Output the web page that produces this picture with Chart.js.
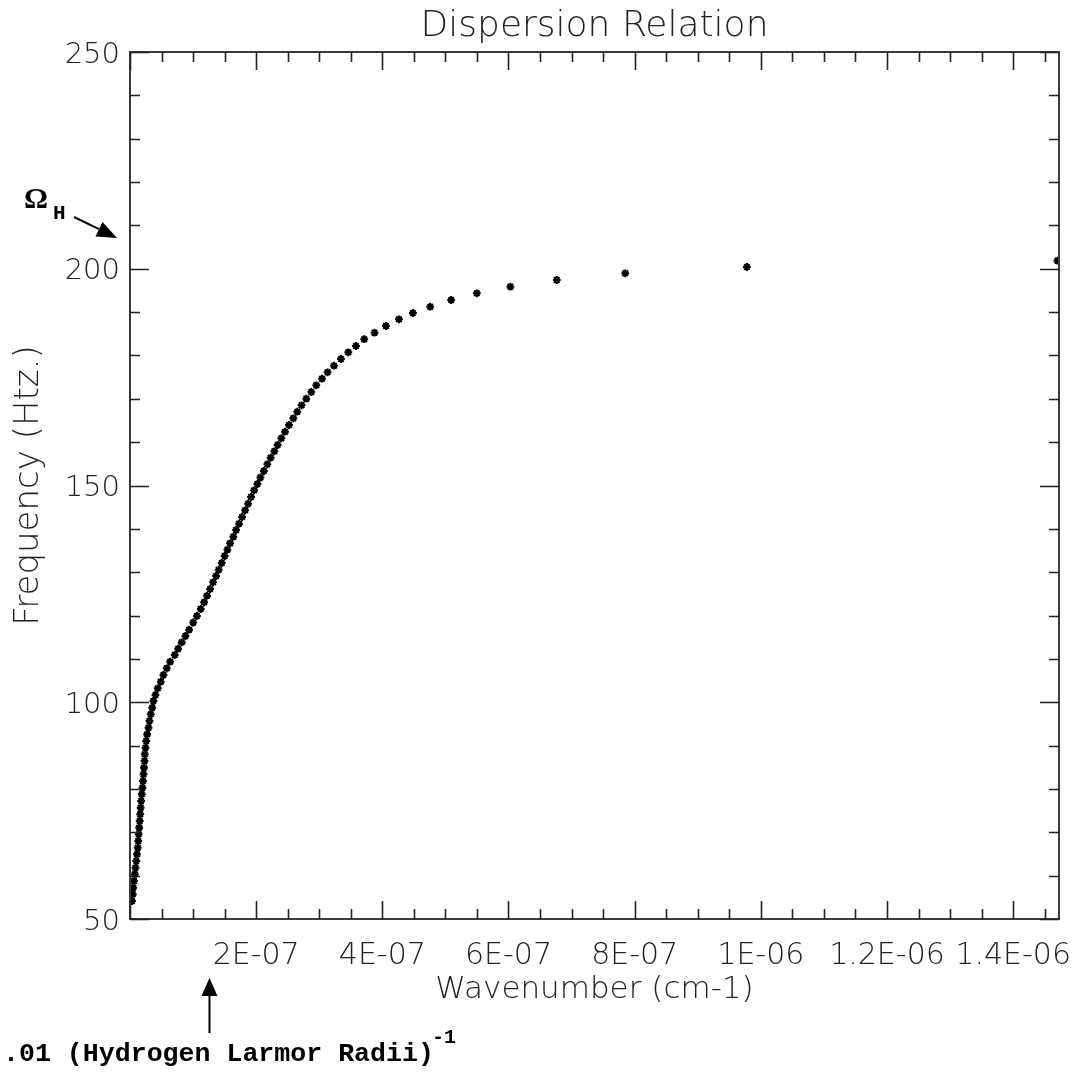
<!DOCTYPE html>
<html><head><meta charset="utf-8">
<script src="https://cdn.jsdelivr.net/npm/chart.js@4/dist/chart.umd.min.js"></script>
<style>html,body{margin:0;padding:0;background:#fff;}canvas{display:block;}</style>
</head><body>
<canvas id="c" width="1081" height="1072"></canvas>
<script>
// Wavenumber (cm-1)
const wavenumber = [
  0.0032e-6, 0.0043e-6, 0.0052e-6, 0.0063e-6, 0.0076e-6, 0.0087e-6, 0.0100e-6, 0.0111e-6, 0.0122e-6, 0.0130e-6,
  0.0138e-6, 0.0146e-6, 0.0154e-6, 0.0162e-6, 0.0169e-6, 0.0177e-6, 0.0187e-6, 0.0198e-6, 0.0206e-6, 0.0214e-6,
  0.0222e-6, 0.0230e-6, 0.0234e-6, 0.0245e-6, 0.0257e-6, 0.0272e-6, 0.0293e-6, 0.0309e-6, 0.0329e-6, 0.0352e-6,
  0.0372e-6, 0.0404e-6, 0.0440e-6, 0.0488e-6, 0.0530e-6, 0.0583e-6, 0.0637e-6, 0.0709e-6, 0.0763e-6, 0.0820e-6,
  0.0879e-6, 0.0937e-6, 0.1002e-6, 0.1061e-6, 0.1121e-6, 0.1175e-6, 0.1222e-6, 0.1270e-6, 0.1317e-6, 0.1365e-6,
  0.1406e-6, 0.1454e-6, 0.1501e-6, 0.1544e-6, 0.1587e-6, 0.1639e-6, 0.1682e-6, 0.1729e-6, 0.1777e-6, 0.1824e-6,
  0.1872e-6, 0.1919e-6, 0.1967e-6, 0.2019e-6, 0.2067e-6, 0.2122e-6, 0.2177e-6, 0.2230e-6, 0.2288e-6, 0.2340e-6,
  0.2399e-6, 0.2458e-6, 0.2521e-6, 0.2589e-6, 0.2652e-6, 0.2720e-6, 0.2795e-6, 0.2874e-6, 0.2953e-6, 0.3044e-6,
  0.3132e-6, 0.3234e-6, 0.3344e-6, 0.3460e-6, 0.3582e-6, 0.3713e-6, 0.3876e-6, 0.4057e-6, 0.4263e-6, 0.4485e-6,
  0.4759e-6, 0.5091e-6, 0.5498e-6, 0.6030e-6, 0.6765e-6, 0.7851e-6, 0.9780e-6, 1.4703e-6
];
// Frequency (Htz.)
const frequency = [
  54.15, 55.69, 57.22, 58.76, 60.30, 61.83, 63.38, 64.92, 66.45, 68.00,
  69.54, 71.07, 72.61, 74.15, 75.68, 77.22, 78.77, 80.29, 81.83, 83.38,
  84.91, 86.45, 87.99, 89.52, 91.06, 92.60, 94.13, 95.67, 97.22, 98.74,
  100.28, 101.67, 103.22, 104.74, 106.29, 107.83, 109.35, 110.90, 112.35, 113.82,
  115.28, 116.74, 118.40, 119.90, 121.51, 123.06, 124.58, 126.12, 127.67, 129.12,
  130.58, 132.12, 133.74, 135.19, 136.67, 138.19, 139.73, 141.19, 142.73, 144.28,
  145.80, 147.35, 148.89, 150.35, 151.85, 153.34, 154.89, 156.41, 157.89, 159.34,
  160.89, 162.41, 163.96, 165.50, 167.02, 168.50, 170.02, 171.57, 173.11, 174.64,
  176.11, 177.63, 179.18, 180.73, 182.18, 183.75, 185.25, 186.79, 188.34, 189.79,
  191.25, 192.79, 194.34, 195.86, 197.40, 198.95, 200.40, 201.86
];
const xTickLabels = ['', '2E-07', '4E-07', '6E-07', '8E-07', '1E-06', '1.2E-06', '1.4E-06'];
const yTickLabels = ['50', '100', '150', '200', '250'];
const chartTitle = 'Dispersion Relation';
const omegaH = 207.1;          // frequency the Ω_H arrow points at
const larmorMark = 1.26e-7;    // wavenumber the bottom arrow points at

const TEXT = '#222';
const AXIS = '#3a3a3a';
const LIGHT = '"DejaVu Sans", sans-serif';

const points = wavenumber.map((k, i) => ({x: k, y: frequency[i]}));

function arrowHead(ctx, x0, y0, x1, y1, len, half) {
  const ang = Math.atan2(y1 - y0, x1 - x0);
  const bx = x1 - len * Math.cos(ang), by = y1 - len * Math.sin(ang);
  ctx.beginPath();
  ctx.moveTo(x1, y1);
  ctx.lineTo(bx + half * Math.sin(ang), by - half * Math.cos(ang));
  ctx.lineTo(bx - half * Math.sin(ang), by + half * Math.cos(ang));
  ctx.closePath();
  ctx.fill();
  return [bx, by];
}

const framePlugin = {
  id: 'frame',
  afterDraw(chart) {
    const {ctx, chartArea: a} = chart;
    const xs = chart.scales.x, ys = chart.scales.y;
    ctx.save();
    // title centred over the plot box
    ctx.fillStyle = TEXT;
    ctx.font = '200 36px ' + LIGHT;
    ctx.textAlign = 'center';
    ctx.textBaseline = 'alphabetic';
    ctx.fillText(chartTitle, (a.left + a.right) / 2, 36);

    ctx.strokeStyle = AXIS;
    ctx.lineWidth = 2;
    ctx.strokeRect(a.left, a.top, a.right - a.left, a.bottom - a.top);
    ctx.lineWidth = 1.6;
    ctx.strokeStyle = '#222';
    // x ticks (inward, bottom and top)
    for (let i = 0; i * 5e-8 <= xs.max + 1e-12; i++) {
      const px = Math.round(xs.getPixelForValue(i * 5e-8)) + 0.5;
      const len = (i % 4 === 0) ? 18 : 10;
      ctx.beginPath();
      ctx.moveTo(px, a.bottom); ctx.lineTo(px, a.bottom - len);
      ctx.moveTo(px, a.top); ctx.lineTo(px, a.top + len);
      ctx.stroke();
    }
    // y ticks (inward, left and right)
    for (let v = ys.min; v <= ys.max + 1e-9; v += 10) {
      const py = Math.round(ys.getPixelForValue(v)) + 0.5;
      const len = (Math.round(v) % 50 === 0) ? 19 : 10;
      ctx.beginPath();
      ctx.moveTo(a.left, py); ctx.lineTo(a.left + len, py);
      ctx.moveTo(a.right, py); ctx.lineTo(a.right - len, py);
      ctx.stroke();
    }

    // Omega_H annotation
    ctx.fillStyle = '#000';
    ctx.strokeStyle = '#000';
    ctx.textAlign = 'left';
    ctx.font = 'bold 30px "Liberation Serif", serif';
    ctx.fillText('Ω', 24, 208);
    ctx.font = 'bold 21px "Liberation Mono", monospace';
    ctx.fillText('H', 53, 219);
    const tipY = ys.getPixelForValue(omegaH);
    ctx.lineWidth = 2;
    const [bx, by] = arrowHead(ctx, 74, 217, 117, tipY, 20, 8);
    ctx.beginPath(); ctx.moveTo(74, 217); ctx.lineTo(bx, by); ctx.stroke();

    // Larmor radius annotation
    const ax = xs.getPixelForValue(larmorMark);
    arrowHead(ctx, ax, 1033, ax, 978, 18, 8);
    ctx.beginPath(); ctx.moveTo(ax, 1033); ctx.lineTo(ax, 994); ctx.stroke();
    ctx.font = 'bold 26.6px "Liberation Mono", monospace';
    ctx.fillText('.01 (Hydrogen Larmor Radii)', 3, 1061);
    ctx.font = 'bold 20px "Liberation Mono", monospace';
    ctx.fillText('-1', 432, 1043);
    ctx.restore();
  }
};

new Chart(document.getElementById('c'), {
  type: 'scatter',
  data: {
    datasets: [{
      label: 'Dispersion',
      data: points,
      pointStyle: 'star',
      pointRadius: 3.9,
      pointBorderWidth: 2.1,
      borderColor: '#000',
      backgroundColor: '#000'
    }]
  },
  options: {
    responsive: false,
    animation: false,
    devicePixelRatio: 1,
    layout: {padding: {top: 52, right: 22, left: 0, bottom: 0}},
    plugins: {
      legend: {display: false},
      tooltip: {enabled: false},
      title: {display: false}
    },
    scales: {
      x: {
        type: 'linear',
        min: 0,
        max: 1.4727e-6,
        grid: {display: false, drawTicks: false},
        border: {display: false},
        ticks: {
          stepSize: 2e-7,
          includeBounds: false,
          autoSkip: false,
          maxRotation: 0,
          padding: 19,
          color: TEXT,
          font: {family: LIGHT, size: 30, weight: 200},
          callback: (v, i) => xTickLabels[i]
        },
        title: {
          display: true,
          text: 'Wavenumber (cm-1)',
          color: TEXT,
          font: {family: LIGHT, size: 31, weight: 200},
          padding: {top: 0, bottom: 63}
        },
        afterFit: s => { s.height = 153; s.paddingLeft = 0; s.paddingRight = 0; }
      },
      y: {
        type: 'linear',
        min: 50,
        max: 250,
        grid: {display: false, drawTicks: false},
        border: {display: false},
        ticks: {
          stepSize: 50,
          autoSkip: false,
          padding: 10,
          labelOffset: 3,
          color: TEXT,
          font: {family: LIGHT, size: 29, weight: 200},
          callback: (v, i) => yTickLabels[i]
        },
        title: {
          display: true,
          text: 'Frequency (Htz.)',
          color: TEXT,
          font: {family: LIGHT, size: 34, weight: 200},
          padding: {top: 9, bottom: 0}
        },
        afterFit: s => { s.width = 130; s.paddingTop = 0; s.paddingBottom = 0; }
      }
    }
  },
  plugins: [framePlugin]
});
</script>
</body></html>
